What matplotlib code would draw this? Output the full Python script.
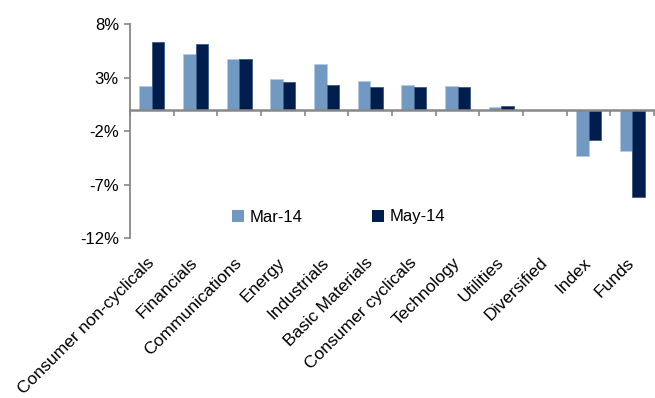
import matplotlib
matplotlib.use("Agg")
import matplotlib.pyplot as plt
import numpy as np
from matplotlib.ticker import FixedLocator, FuncFormatter

categories = ["Consumer non-cyclicals", "Financials", "Communications", "Energy",
              "Industrials", "Basic Materials", "Consumer cyclicals", "Technology",
              "Utilities", "Diversified", "Index", "Funds"]
mar14 = [2.2, 5.2, 4.75, 2.85, 4.25, 2.7, 2.3, 2.2, 0.2, 0.0, -4.35, -3.9]
may14 = [6.35, 6.15, 4.7, 2.6, 2.3, 2.15, 2.15, 2.1, 0.3, 0.0, -2.8, -8.15]
yticks = [-12, -7, -2, 3, 8]

plt.rcParams['font.family'] = ['Liberation Sans', 'DejaVu Sans']

W, H = 655, 398
fig = plt.figure(figsize=(W / 100, H / 100), dpi=100)
ax = fig.add_axes([130 / W, 1 - 238 / H, 524 / W, (238 - 24) / H])

x = np.arange(len(categories))
bw = 0.29
c_mar = "#7199C1"
c_may = "#001E4D"
ax.bar(x - bw / 2, mar14, bw, color=c_mar, edgecolor="#B4CCE2", linewidth=0.6, label="Mar-14", zorder=2)
ax.bar(x + bw / 2, may14, bw, color=c_may, edgecolor="#3A5A86", linewidth=0.6, label="May-14", zorder=2)

ax.set_xlim(-0.5, len(categories) - 0.5)
ax.set_ylim(-12, 8)

gray = "#888888"
for s in ["top", "right"]:
    ax.spines[s].set_visible(False)
ax.spines["left"].set_color(gray)
ax.spines["left"].set_linewidth(1.3)
ax.spines["bottom"].set_position(("data", 0))
ax.spines["bottom"].set_color(gray)
ax.spines["bottom"].set_linewidth(1.8)
ax.spines["bottom"].set_zorder(3)

ax.yaxis.set_major_locator(FixedLocator(yticks))
ax.yaxis.set_major_formatter(FuncFormatter(lambda v, p: f"{v:.0f}%"))
ax.tick_params(axis="y", direction="out", length=4, width=1.2, color=gray,
               labelsize=12, pad=4, labelcolor="black")

ax.xaxis.set_major_locator(FixedLocator(list(np.arange(-0.5, len(categories) + 0.5, 1.0))))
ax.xaxis.set_major_formatter(FuncFormatter(lambda v, p: ""))
ax.tick_params(axis="x", direction="out", length=4, width=1.2, color=gray)

sec = ax.secondary_xaxis("bottom")
sec.set_xticks(x)
sec.set_xticklabels(categories, rotation=45, ha="right", va="center",
                    rotation_mode="anchor", fontsize=12.6)
sec.tick_params(axis="x", length=0, pad=16)
sec.spines["bottom"].set_visible(False)

leg = ax.legend(loc="center left", bbox_to_anchor=(232 / W, 1 - 217 / H),
                bbox_transform=fig.transFigure, ncol=2, frameon=False,
                fontsize=12, handlelength=0.7, handleheight=0.7,
                handletextpad=0.35, columnspacing=4.2, borderpad=0, borderaxespad=0)
for h in leg.legend_handles:
    h.set_linewidth(0)

fig.savefig("out.png", dpi=100)
